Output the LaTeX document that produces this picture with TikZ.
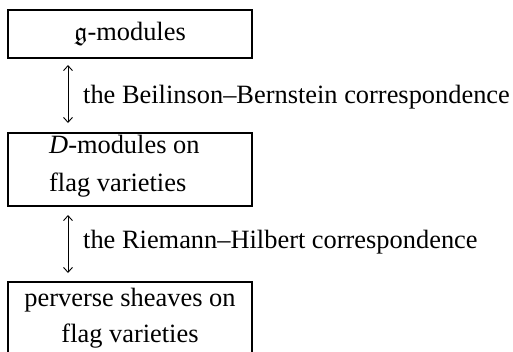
\documentclass[tikz,border=0pt]{standalone}
\usepackage{amssymb}
\usepackage{fontspec}
\setmainfont{Liberation Serif}
\usetikzlibrary{arrows.meta}
\begin{document}
\begin{tikzpicture}[x=1pt,y=-1pt,
  box/.style={draw, line width=1.2pt, minimum width=244pt, inner sep=0pt, font=\fontsize{26.4}{36}\selectfont},
  lbl/.style={anchor=base west, inner sep=0pt, font=\fontsize{26.4}{36}\selectfont},
  corr/.style={{Straight Barb[length=5pt,width=9pt]}-{Straight Barb[length=5pt,width=9pt]}, line width=0.9pt}]
\clip (0,0) rectangle (513,351);
\node[box, minimum height=48pt] (b1) at (130,34) {$\mathfrak{g}$-modules};
\node[box, minimum height=73pt] (b2) at (130,169.5) {};
\node[lbl] (t2a) at (49,153) {\textit{D}-modules on};
\node[lbl] (t2b) at (49,191) {flag varieties};
\node[box, minimum height=73pt, align=center] (b3) at (130,318.5) {perverse sheaves on\\flag varieties};
\coordinate (a1s) at (68,65);
\coordinate (a1e) at (68,123);
\coordinate (a2s) at (68,215);
\coordinate (a2e) at (68,273);
\draw[corr] (a1s) -- (a1e);
\draw[corr] (a2s) -- (a2e);
\node[lbl] (l1) at (83,103) {the Beilinson–Bernstein correspondence};
\node[lbl] (l2) at (83,248) {the Riemann–Hilbert correspondence};
\end{tikzpicture}
\end{document}
